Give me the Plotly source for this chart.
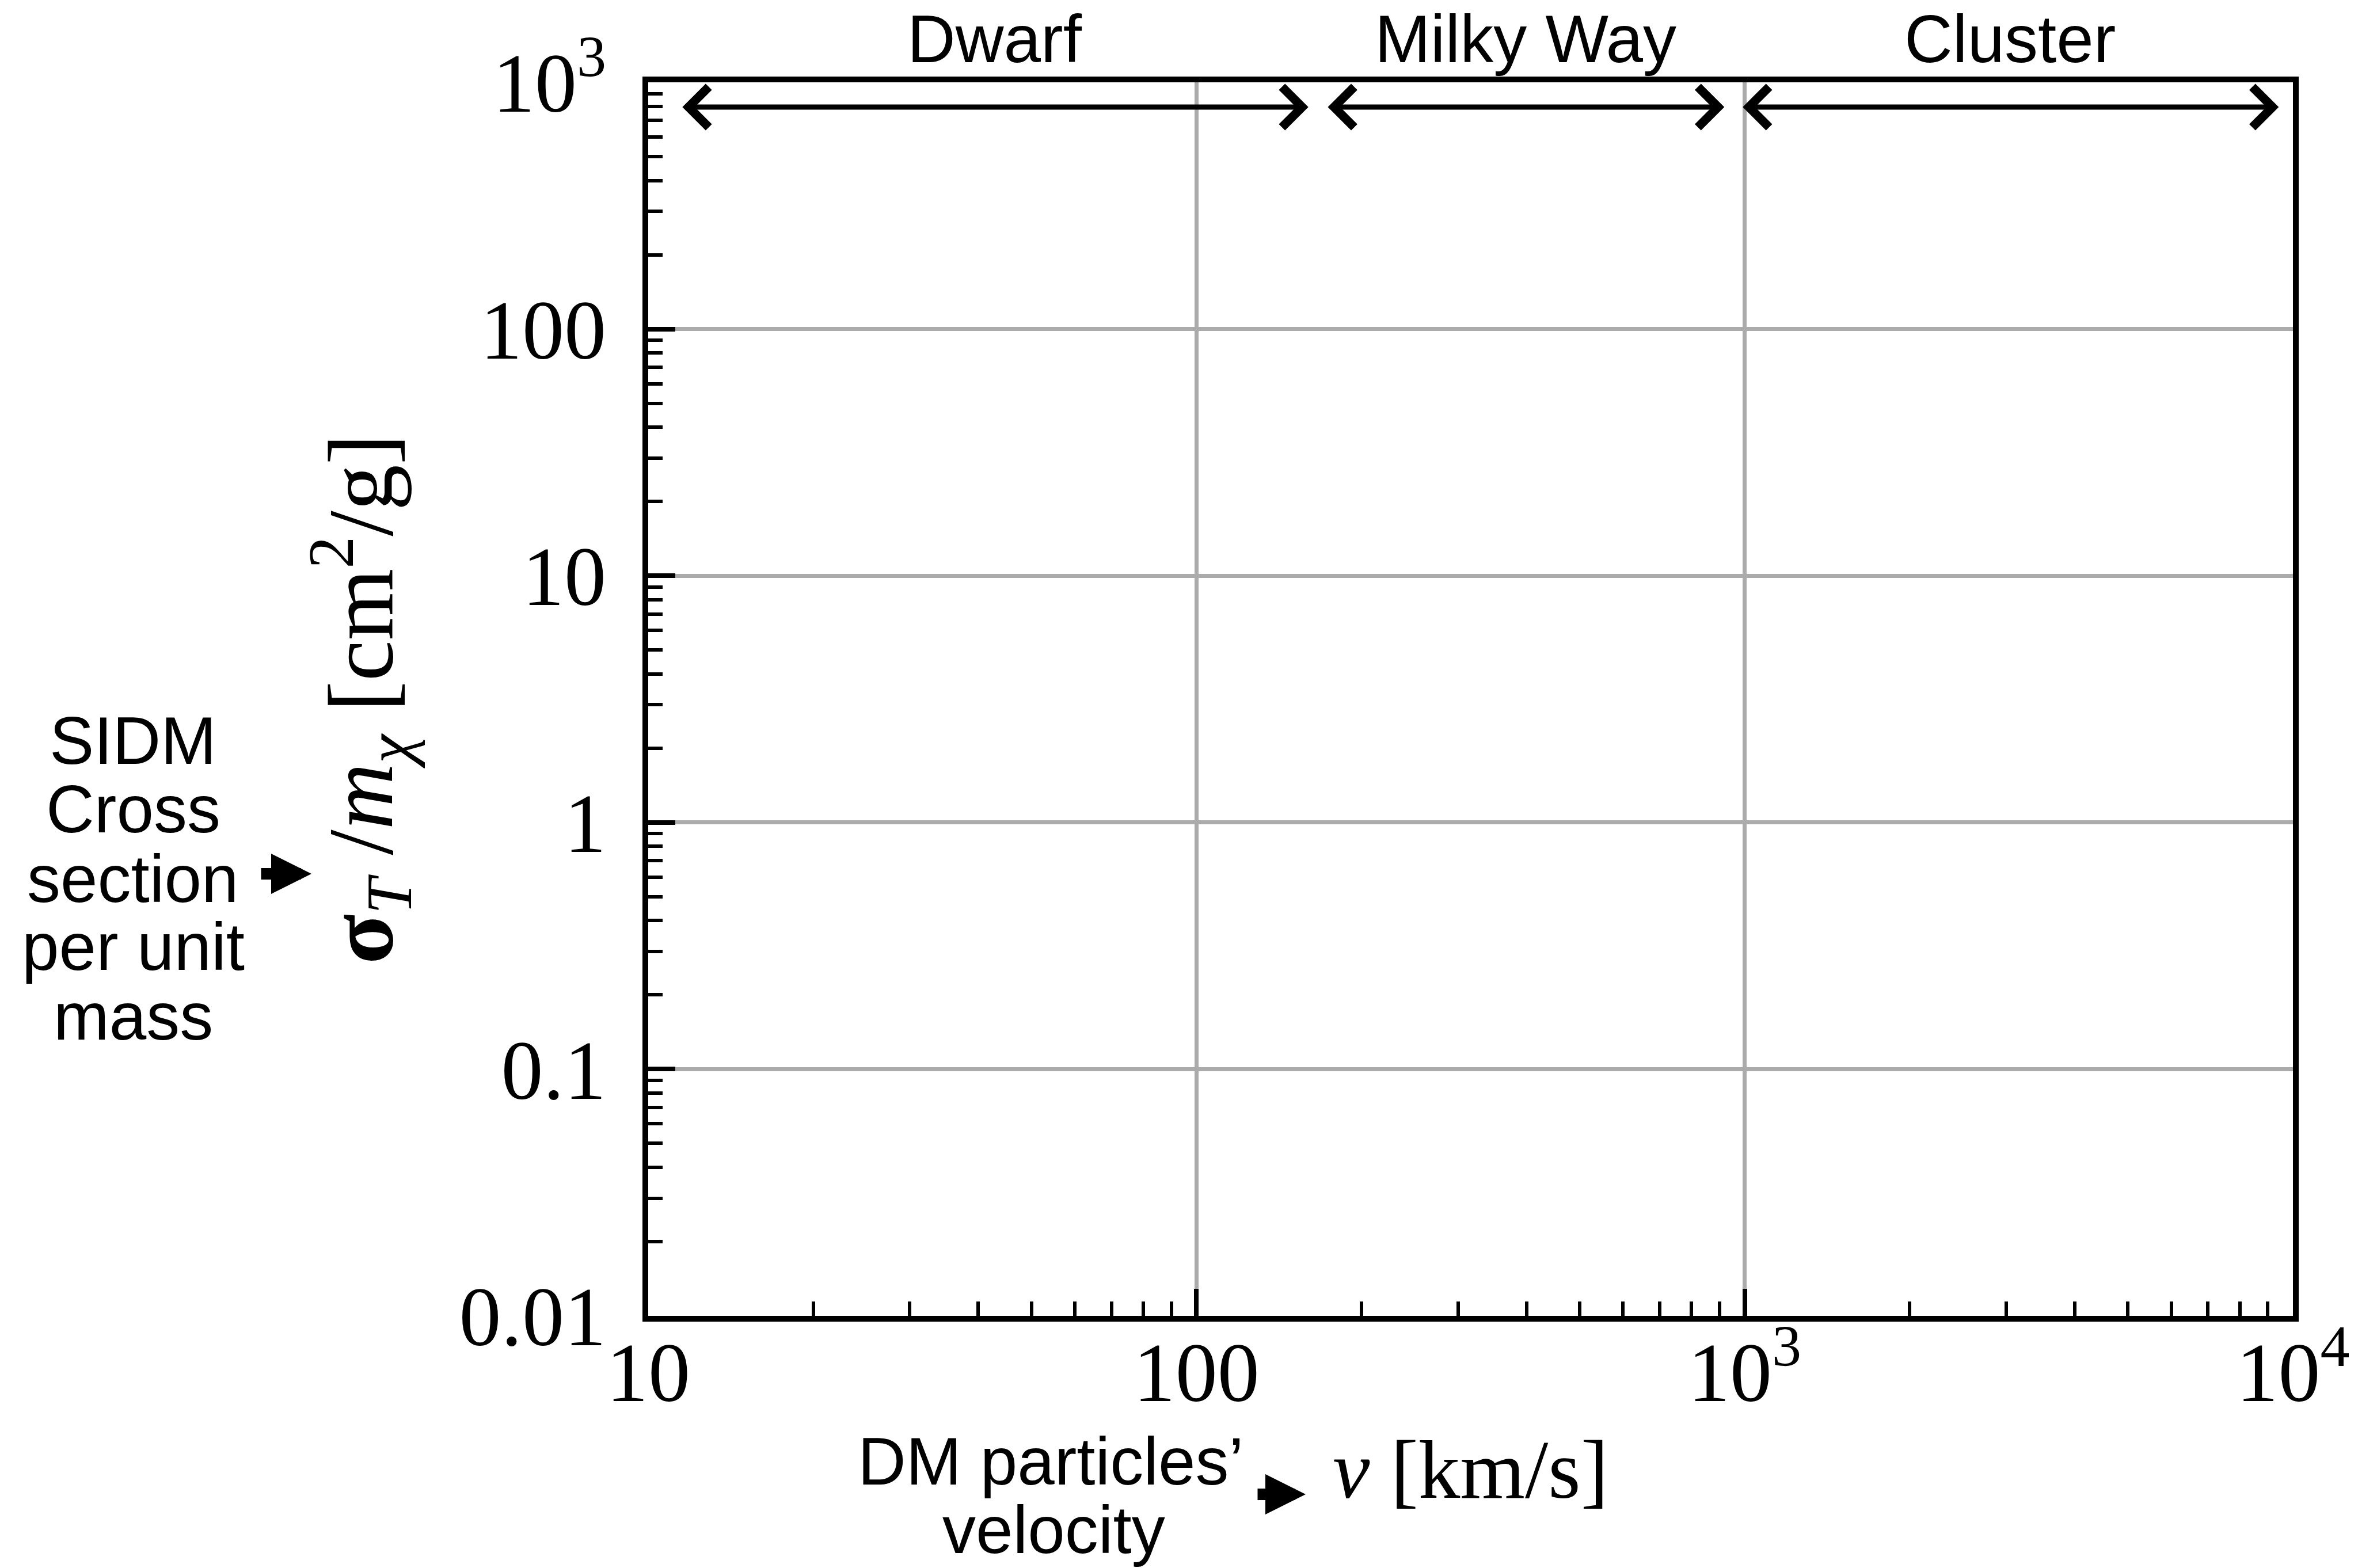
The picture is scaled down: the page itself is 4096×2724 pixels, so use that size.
import math
import plotly.graph_objects as go

# ---- data ----
region_names = ["Dwarf", "Milky Way", "Cluster"]
region_v_lo = [11.5, 173, 988]      # km/s, left end of each range arrow
region_v_hi = [160, 918, 9420]      # km/s, right end of each range arrow
region_arrow_sigma = 794            # cm^2/g, height of the range arrows

x_tickvals = [10, 100, 1000, 10000]
x_ticktext = ["10", "100", "10<sup>3</sup>", "10<sup>4</sup>"]
y_tickvals = [0.01, 0.1, 1, 10, 100, 1000]
y_ticktext = ["0.01", "0.1", "1", "10", "100", "10<sup>3</sup>"]
x_range = [10, 10000]
y_range = [0.01, 1000]

side_label_lines = ["SIDM", "Cross", "section", "per unit", "mass"]
bottom_label_lines = ["DM particles’", "velocity"]

# ---- style ----
W, H = 4096, 2724
L, R, T, B = 1126, 113, 143, 438
PW, PH = W - L - R, H - T - B
SERIF = "Liberation Serif, Times New Roman, serif"
SANS = "Liberation Sans, Arial, Helvetica, sans-serif"
SANS_SIZE = 116
TICK_SIZE = 146


def xp(px):
    return (px - L) / PW


def yp(py):
    return (H - B - py) / PH


fig = go.Figure()

axis_common = dict(
    type="log",
    showline=True, linewidth=9.5, linecolor="black", mirror=True,
    ticks="inside", ticklen=47, tickwidth=8, tickcolor="black",
    showgrid=True, gridcolor="#ababab", gridwidth=7,
    zeroline=False,
    tickfont=dict(family=SERIF, size=TICK_SIZE, color="black"),
    minor=dict(ticks="inside", ticklen=25, tickwidth=6, tickcolor="black",
               dtick="D1", showgrid=False),
)

fig.update_xaxes(
    **axis_common,
    range=[math.log10(x_range[0]), math.log10(x_range[1])],
    tickmode="array", tickvals=x_tickvals, ticktext=x_ticktext,
    ticklabelstandoff=-37,
    title=dict(text="<i>v</i> [km/s]",
               font=dict(family=SERIF, size=145, color="black"),
               standoff=40),
)
fig.update_yaxes(
    **axis_common,
    range=[math.log10(y_range[0]), math.log10(y_range[1])],
    tickmode="array", tickvals=y_tickvals, ticktext=y_ticktext,
    ticklabelstandoff=34,
    title=dict(text="<b>σ</b><sub><i>T</i></sub> /<i>m</i><sub><i>χ</i></sub> [cm<sup>2</sup>/g]",
               font=dict(family=SERIF, size=160, color="black"),
               standoff=66),
)

annotations = []
# range arrows and their labels
for name, lo, hi in zip(region_names, region_v_lo, region_v_hi):
    annotations.append(dict(
        x=math.log10(hi), y=math.log10(region_arrow_sigma),
        ax=math.log10(lo), ay=math.log10(region_arrow_sigma),
        xref="x", yref="y", axref="x", ayref="y",
        text="", showarrow=True,
        arrowside="end+start", arrowhead=4, startarrowhead=4,
        arrowsize=1.5, startarrowsize=1.5, arrowwidth=9, arrowcolor="black",
        standoff=0, startstandoff=0,
    ))
    xc = (math.log10(lo) + math.log10(hi)) / 2
    annotations.append(dict(
        x=xc, y=yp(68), xref="x", yref="paper",
        text=name, showarrow=False, xanchor="center", yanchor="middle",
        font=dict(family=SANS, size=SANS_SIZE, color="black"),
    ))

# side description of the y axis
side_centers = [1287, 1406, 1527, 1645, 1766]
for line, cy in zip(side_label_lines, side_centers):
    annotations.append(dict(
        x=xp(231), y=yp(cy), xref="paper", yref="paper",
        text=line, showarrow=False, xanchor="center", yanchor="middle",
        font=dict(family=SANS, size=SANS_SIZE, color="black"),
    ))
annotations.append(dict(
    x=xp(541), y=yp(1518), xref="paper", yref="paper",
    ax=-89, ay=0, text="", showarrow=True,
    arrowhead=2, arrowsize=0.7, arrowwidth=20, arrowcolor="black",
))

# bottom description of the x axis
bottom_centers = [(1825, 2539), (1830, 2658)]
for line, (cx, cy) in zip(bottom_label_lines, bottom_centers):
    annotations.append(dict(
        x=xp(cx), y=yp(cy), xref="paper", yref="paper",
        text=line, showarrow=False, xanchor="center", yanchor="middle",
        font=dict(family=SANS, size=SANS_SIZE, color="black"),
    ))
annotations.append(dict(
    x=xp(2268), y=yp(2596), xref="paper", yref="paper",
    ax=-85, ay=0, text="", showarrow=True,
    arrowhead=2, arrowsize=0.7, arrowwidth=20, arrowcolor="black",
))

fig.update_layout(
    width=W, height=H,
    margin=dict(l=L, r=R, t=T, b=B, autoexpand=False),
    paper_bgcolor="white", plot_bgcolor="white",
    showlegend=False,
    annotations=annotations,
)

fig.write_html("out.html")
